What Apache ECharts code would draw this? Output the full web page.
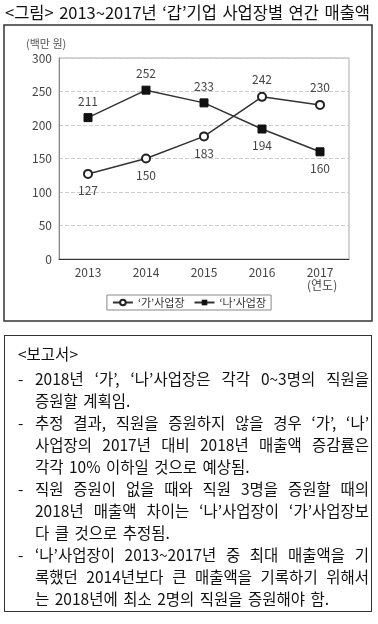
<!DOCTYPE html>
<html><head><meta charset="utf-8">
<script src="https://cdn.jsdelivr.net/npm/echarts@6/dist/echarts.min.js"></script>
<style>
html,body{margin:0;padding:0;background:#fff;}
#wrap{position:relative;width:378px;height:624px;overflow:hidden;font-family:"Noto Sans CJK KR","Noto Sans",sans-serif;}
#chart{position:absolute;left:0;top:0;width:378px;height:624px;}
.ln{position:absolute;white-space:nowrap;text-align:justify;text-align-last:justify;color:#111;}
#title{left:5px;top:1px;width:365px;font-size:16.5px;line-height:22px;color:#111;}
#report{position:absolute;left:4px;top:335px;width:366px;height:275px;border:1.5px solid #333;}
.r{font-size:15.5px;line-height:22px;word-spacing:2px;}
</style></head>
<body><div id="wrap"><div id="chart"></div>
<div id="title" class="ln">&lt;그림&gt; 2013~2017년 ‘갑’기업 사업장별 연간 매출액</div>
<div id="report"></div>
</div>
<script>
const years = ['2013','2014','2015','2016','2017'];
const gaValues = [127, 150, 183, 242, 230];
const naValues = [211, 252, 233, 194, 160];
const gaLabelPos = ['bottom','bottom','bottom','top','top'];
const naLabelPos = ['top','top','top','bottom','bottom'];
const seriesNames = ['‘가’사업장', '‘나’사업장'];
const yTicks = {min:0, max:300, interval:50};
const reportLines = [
  {t:'<보고서>', dash:false, head:true, j:false},
  {t:'2018년 ‘가’, ‘나’사업장은 각각 0~3명의 직원을', dash:true, j:true},
  {t:'증원할 계획임.', dash:false, j:false},
  {t:'추정 결과, 직원을 증원하지 않을 경우 ‘가’, ‘나’', dash:true, j:true},
  {t:'사업장의 2017년 대비 2018년 매출액 증감률은', dash:false, j:true},
  {t:'각각 10% 이하일 것으로 예상됨.', dash:false, j:false},
  {t:'직원 증원이 없을 때와 직원 3명을 증원할 때의', dash:true, j:true},
  {t:'2018년 매출액 차이는 ‘나’사업장이 ‘가’사업장보', dash:false, j:true},
  {t:'다 클 것으로 추정됨.', dash:false, j:false},
  {t:'‘나’사업장이 2013~2017년 중 최대 매출액을 기', dash:true, j:true},
  {t:'록했던 2014년보다 큰 매출액을 기록하기 위해서', dash:false, j:true},
  {t:'는 2018년에 최소 2명의 직원을 증원해야 함.', dash:false, j:false}
];
const rep = document.getElementById('report');
reportLines.forEach((l,i)=>{
  const top = l.head ? 6 : 9 + i*22;
  const x = l.head ? 13 : 30;
  const d = document.createElement('div');
  d.className = 'ln r';
  d.textContent = l.t;
  d.style.left = x + 'px';
  d.style.top = top + 'px';
  d.style.width = (366 - x - 2) + 'px';
  if(!l.j){ d.style.textAlign='left'; d.style.textAlignLast='left'; }
  rep.appendChild(d);
  if(l.dash){
    const s = document.createElement('div');
    s.className = 'ln r';
    s.textContent = '-';
    s.style.left = '13px';
    s.style.top = top + 'px';
    s.style.textAlignLast='left';
    rep.appendChild(s);
  }
});

const chart = echarts.init(document.getElementById('chart'), null, {renderer:'canvas'});
const font = '"Noto Sans CJK KR","Noto Sans",sans-serif';
function mkData(vals, pos){
  return vals.map((v,i)=>({value:v, label:{position:pos[i]}}));
}
chart.setOption({
  animation:false,
  textStyle:{fontFamily:font},
  graphic:[
    {type:'rect', shape:{x:4, y:25, width:368, height:296}, style:{fill:'none', stroke:'#333', lineWidth:1.5}},
    {type:'text', left:26, top:38, style:{text:'(백만 원)', fontSize:11, fill:'#555', fontFamily:font}},
    {type:'text', left:307, top:279, style:{text:'(연도)', fontSize:12, fill:'#444', fontFamily:font}}
  ],
  grid:{left:59, right:29, top:58, bottom:365, show:true, borderColor:'#aaa', borderWidth:1},
  legend:{
    data:seriesNames, bottom:624-310, left:'center', itemGap:9, itemWidth:20, itemHeight:7,
    borderColor:'#888', borderWidth:1, padding:[2,5,2,5], borderRadius:0,
    textStyle:{fontSize:11, color:'#333', fontFamily:font}
  },
  xAxis:{
    type:'category', data:years, boundaryGap:true,
    axisLine:{lineStyle:{color:'#333', width:1}},
    axisTick:{inside:true, length:4, lineStyle:{color:'#555'}},
    axisLabel:{fontSize:12, color:'#444', margin:7, fontFamily:font}
  },
  yAxis:{
    type:'value', min:yTicks.min, max:yTicks.max, interval:yTicks.interval,
    axisLine:{show:true, lineStyle:{color:'#888'}},
    axisTick:{show:false},
    axisLabel:{fontSize:12, color:'#444', margin:7, fontFamily:font},
    splitLine:{lineStyle:{color:'#ccc', type:'dashed'}}
  },
  series:[
    {name:seriesNames[0], type:'line', data:mkData(gaValues, gaLabelPos),
     symbol:'emptyCircle', symbolSize:8, lineStyle:{color:'#333', width:1.5},
     itemStyle:{color:'#222', borderColor:'#222', borderWidth:1.3},
     label:{show:true, fontSize:12, color:'#444', distance:6}},
    {name:seriesNames[1], type:'line', data:mkData(naValues, naLabelPos),
     symbol:'rect', symbolSize:8, lineStyle:{color:'#333', width:1.5},
     itemStyle:{color:'#111', borderColor:'#111'},
     label:{show:true, fontSize:12, color:'#444', distance:6}}
  ]
});
</script></body></html>
